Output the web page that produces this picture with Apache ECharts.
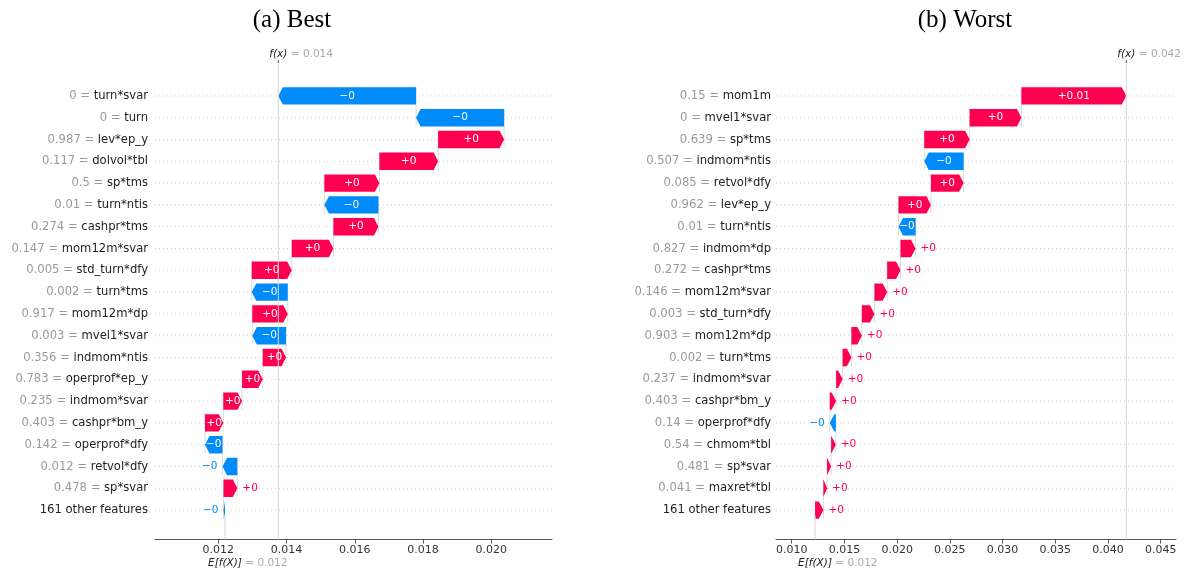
<!DOCTYPE html>
<html>
<head>
<meta charset="utf-8">
<title>SHAP waterfall - best vs worst</title>
<script src="https://cdn.jsdelivr.net/npm/echarts@6/dist/echarts.min.js"></script>
<style>
  html, body { margin: 0; padding: 0; background: #fff; }
  #chart { width: 1184px; height: 571px; }
</style>
</head>
<body>
<div id="chart"></div>
<script>
// (a) Best: rows top to bottom, shap value per row, base value E[f(X)]
const bestFeatures = ['turn*svar', 'turn', 'lev*ep_y', 'dolvol*tbl', 'sp*tms', 'turn*ntis', 'cashpr*tms',
    'mom12m*svar', 'std_turn*dfy', 'turn*tms', 'mom12m*dp', 'mvel1*svar', 'indmom*ntis', 'operprof*ep_y',
    'indmom*svar', 'cashpr*bm_y', 'operprof*dfy', 'retvol*dfy', 'sp*svar', '161 other features']
const bestFeatureValues = ['0', '0', '0.987', '0.117', '0.5', '0.01', '0.274', '0.147', '0.005', '0.002',
    '0.917', '0.003', '0.356', '0.783', '0.235', '0.403', '0.142', '0.012', '0.478', null]
const bestShap = [-0.004038, -0.002581, 0.001935, 0.001721, 0.001613, -0.001584, 0.001320, 0.001220,
    0.001173, -0.001056, 0.001038, -0.000988, 0.000683, 0.000607, 0.000548, 0.000537, -0.000513,
    -0.000434, 0.000405, -0.000044]
const bestBase = 0.012196
const bestTicks = [0.012, 0.014, 0.016, 0.018, 0.020]

// (b) Worst
const worstFeatures = ['mom1m', 'mvel1*svar', 'sp*tms', 'indmom*ntis', 'retvol*dfy', 'lev*ep_y', 'turn*ntis',
    'indmom*dp', 'cashpr*tms', 'mom12m*svar', 'std_turn*dfy', 'mom12m*dp', 'turn*tms', 'indmom*svar',
    'cashpr*bm_y', 'operprof*dfy', 'chmom*tbl', 'sp*svar', 'maxret*tbl', '161 other features']
const worstFeatureValues = ['0.15', '0', '0.639', '0.507', '0.085', '0.962', '0.01', '0.827', '0.272', '0.146',
    '0.003', '0.903', '0.002', '0.237', '0.403', '0.14', '0.54', '0.481', '0.041', null]
const worstShap = [0.009950, 0.004913, 0.004305, -0.003735, 0.003098, 0.003079, -0.001616, 0.001425,
    0.001264, 0.001207, 0.001197, 0.000988, 0.000836, 0.000618, 0.000599, -0.000570, 0.000447,
    0.000380, 0.000352, 0.000789]
const worstBase = 0.012214
const worstTicks = [0.010, 0.015, 0.020, 0.025, 0.030, 0.035, 0.040, 0.045]

const RED = '#ff0051'
const BLUE = '#008bfb'
const FONT = 'DejaVu Sans'
const HEAD = 4.5        // arrow head length in px
const AXIS_GAP = 18.5   // x axis sits a bit below the last row
const BAR_FONT = 10.5

const charW = { '+': 0.838, '\u2212': 0.838, '.': 0.318 }
const textWidth = (s, size) => s.split('').reduce((w, c) => w + (charW[c] || 0.636), 0) * size

// same idea as shap's format_value: 2 decimals, trailing zeros dropped
const formatShap = v => {
    const s = Math.abs(v).toFixed(2).replace(/0+$/, '').replace(/\.$/, '')
    return (v < 0 ? '\u2212' : '+') + s
}

const sum = arr => arr.reduce((s, v) => s + v, 0)

// cumulative positions, built from the bottom row up
const waterfall = (shap, base) => {
    const rows = []
    let pos = base
    for (let i = shap.length - 1; i >= 0; i--) {
        rows[i] = [pos, pos + shap[i], i, shap[i]]
        pos += shap[i]
    }
    return rows
}

const renderBars = n => (params, api) => {
    const cs = params.coordSys
    const row = api.value(2)
    const v = api.value(3)
    const p0 = api.coord([api.value(0), row])
    const p1 = api.coord([api.value(1), row])
    const band = api.size([0, 1])[1]
    const half = band * 0.4
    const yc = p0[1]
    const x0 = p0[0], x1 = p1[0]
    const w = Math.abs(x1 - x0)
    const dir = v >= 0 ? 1 : -1
    const hl = Math.min(w, HEAD)
    const color = v >= 0 ? RED : BLUE
    const label = formatShap(v)
    const fits = w > textWidth(label, BAR_FONT) + 0.5

    const children = [{
        type: 'line',
        shape: { x1: cs.x, y1: yc, x2: cs.x + cs.width, y2: yc },
        style: { stroke: '#cfcfcf', lineWidth: 1, lineDash: [1, 3] }
    }]
    if (row < n - 1) {
        children.push({
            type: 'line',
            shape: { x1: x0, y1: yc - half, x2: x0, y2: yc + band + half },
            style: { stroke: '#dcdcdc', lineWidth: 1 }
        })
    }
    children.push({
        type: 'polygon',
        shape: { points: [[x0, yc - half], [x1 - dir * hl, yc - half], [x1, yc], [x1 - dir * hl, yc + half], [x0, yc + half]] },
        style: { fill: color }
    })
    children.push({
        type: 'text',
        style: fits
            ? { text: label, x: (x0 + x1) / 2, y: yc, align: 'center', verticalAlign: 'middle', fill: '#fff', fontSize: BAR_FONT, fontFamily: FONT }
            : { text: label, x: x1 + dir * 5, y: yc, align: dir > 0 ? 'left' : 'right', verticalAlign: 'middle', fill: color, fontSize: BAR_FONT, fontFamily: FONT }
    })
    return { type: 'group', children }
}

// f(x) and E[f(X)] reference lines with their labels
const renderRefs = (params, api) => {
    const cs = params.coordSys
    const axisY = cs.y + cs.height + AXIS_GAP
    const base = api.value(0), fx = api.value(1)
    const xb = api.coord([base, 0])[0]
    const xf = api.coord([fx, 0])[0]
    const top = cs.y - 22
    const rich = {
        i: { fontFamily: FONT, fontStyle: 'italic', fontSize: 10.5, fill: '#222' },
        g: { fontFamily: FONT, fontSize: 10.5, fill: '#aaa' }
    }
    return {
        type: 'group',
        children: [
            { type: 'line', shape: { x1: xf, y1: top, x2: xf, y2: axisY }, style: { stroke: '#d6d6d6', lineWidth: 1 } },
            { type: 'line', shape: { x1: xf, y1: top - 3, x2: xf, y2: top }, style: { stroke: '#555', lineWidth: 1 } },
            { type: 'line', shape: { x1: xb, y1: axisY - (axisY - top) / 20, x2: xb, y2: axisY }, style: { stroke: '#d6d6d6', lineWidth: 1 } },
            { type: 'text', style: { text: '{i|f(x)}{g| = ' + fx.toFixed(3) + '}', rich, x: xf - 9, y: top - 9, verticalAlign: 'middle', align: 'left' } },
            { type: 'text', style: { text: '{i|E[f(X)]}{g| = ' + base.toFixed(3) + '}', rich, x: xb - 17, y: axisY + 24, verticalAlign: 'middle', align: 'left' } }
        ]
    }
}

const panel = (idx, cfg) => {
    const fx = cfg.base + sum(cfg.shap)
    return {
        grid: { left: cfg.left, top: 85, width: cfg.width, height: 436 },
        xAxis: {
            type: 'value', gridIndex: idx, min: cfg.min, max: cfg.max, offset: AXIS_GAP,
            axisLine: { show: true, onZero: false, lineStyle: { color: '#555', width: 1 } },
            axisTick: { show: true, length: 4, lineStyle: { color: '#555' }, customValues: cfg.ticks },
            axisLabel: { customValues: cfg.ticks, formatter: v => v.toFixed(3), color: '#333', fontSize: 11, fontFamily: FONT, margin: 5 },
            splitLine: { show: false }
        },
        yAxis: {
            type: 'category', gridIndex: idx, inverse: true, data: cfg.features,
            axisLine: { show: false }, axisTick: { show: false }, splitLine: { show: false },
            axisLabel: {
                margin: cfg.margin,
                formatter: (name, i) => cfg.values[i] == null ? '{n|' + name + '}' : '{v|' + cfg.values[i] + ' = }{n|' + name + '}',
                rich: {
                    v: { color: '#999', fontSize: 11.6, fontFamily: FONT },
                    n: { color: '#222', fontSize: 11.6, fontFamily: FONT }
                }
            }
        },
        series: [
            {
                type: 'custom', xAxisIndex: idx, yAxisIndex: idx,
                data: waterfall(cfg.shap, cfg.base),
                encode: { x: [0, 1], y: 2 },
                renderItem: renderBars(cfg.shap.length)
            },
            {
                type: 'custom', xAxisIndex: idx, yAxisIndex: idx,
                data: [[cfg.base, fx, 0]],
                encode: { x: [0, 1], y: 2 },
                renderItem: renderRefs
            }
        ]
    }
}

const best = panel(0, {
    left: 155, width: 397, min: 0.010144, max: 0.02178, margin: 7,
    features: bestFeatures, values: bestFeatureValues, shap: bestShap, base: bestBase, ticks: bestTicks
})
const worst = panel(1, {
    left: 776, width: 400, min: 0.008508, max: 0.046454, margin: 5,
    features: worstFeatures, values: worstFeatureValues, shap: worstShap, base: worstBase, ticks: worstTicks
})

const titleStyle = { fontFamily: 'Liberation Serif', fontSize: 25, fontWeight: 'normal', color: '#000' }

const chart = echarts.init(document.getElementById('chart'))
chart.setOption({
    animation: false,
    title: [
        { text: '(a) Best', left: 287, top: 3, textAlign: 'center', textStyle: titleStyle },
        { text: '(b) Worst', left: 960, top: 3, textAlign: 'center', textStyle: titleStyle }
    ],
    grid: [best.grid, worst.grid],
    xAxis: [best.xAxis, worst.xAxis],
    yAxis: [best.yAxis, worst.yAxis],
    series: [...best.series, ...worst.series]
})
</script>
</body>
</html>
